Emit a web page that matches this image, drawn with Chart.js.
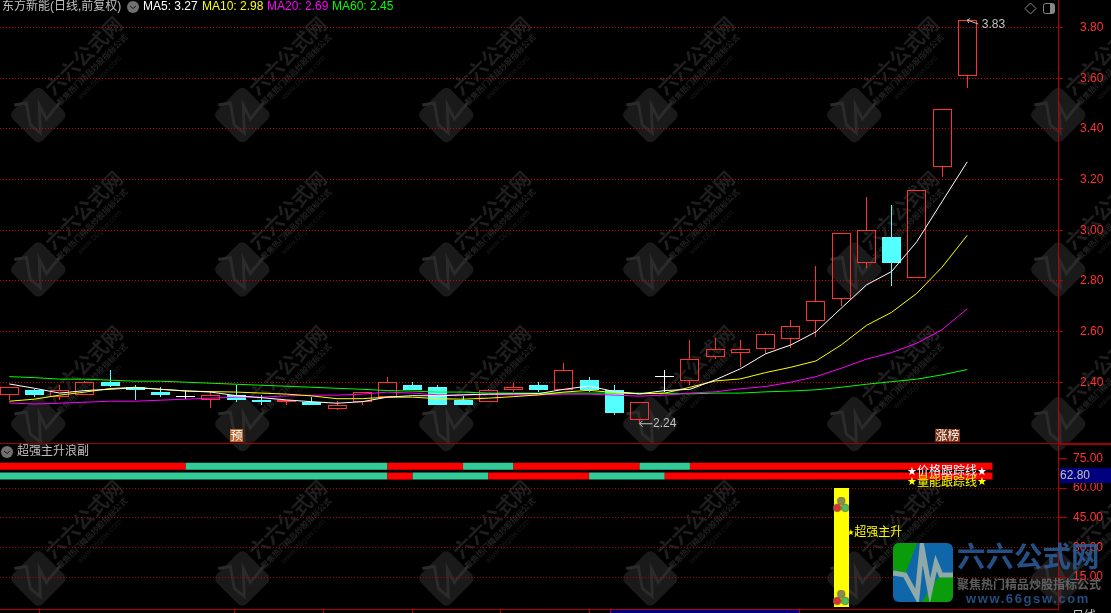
<!DOCTYPE html>
<html>
<head>
<meta charset="utf-8">
<title>东方新能</title>
<script src="https://cdn.jsdelivr.net/npm/chart.js@4"></script>
<style>
    html, body { margin: 0; padding: 0; background: #000; overflow: hidden; }
    canvas { display: block; }
</style>
</head>
<body>
<canvas id="klineChart" width="1111" height="613"></canvas>
<script>
// Daily candles, oldest first
const opens  = [2.35,2.37,2.34,2.35,2.40,2.38,2.36,2.34,2.33,2.35,2.33,2.32,2.32,2.295,2.32,2.34,2.39,2.38,2.33,2.32,2.37,2.39,2.37,2.41,2.37,2.25,2.42,2.405,2.50,2.515,2.53,2.57,2.64,2.73,2.87,2.975,2.81,3.25,3.61];
const closes = [2.38,2.35,2.37,2.40,2.385,2.37,2.35,2.34,2.35,2.33,2.32,2.33,2.31,2.31,2.36,2.40,2.37,2.31,2.31,2.37,2.38,2.37,2.45,2.37,2.28,2.32,2.42,2.49,2.53,2.53,2.59,2.62,2.72,2.99,3.00,2.87,3.16,3.48,3.83];
const highs  = [2.38,2.375,2.39,2.405,2.45,2.39,2.38,2.365,2.36,2.39,2.35,2.33,2.34,2.325,2.36,2.42,2.40,2.39,2.345,2.375,2.395,2.40,2.475,2.42,2.39,2.32,2.45,2.565,2.575,2.565,2.60,2.645,2.86,2.99,3.13,3.10,3.16,3.48,3.83];
const lows   = [2.33,2.34,2.33,2.35,2.38,2.33,2.34,2.335,2.30,2.32,2.31,2.31,2.31,2.29,2.31,2.34,2.37,2.31,2.31,2.32,2.36,2.36,2.37,2.36,2.27,2.24,2.36,2.39,2.49,2.46,2.51,2.535,2.58,2.70,2.85,2.78,2.81,3.21,3.56];

const ma5  = [2.393,2.376,2.357,2.367,2.372,2.378,2.372,2.366,2.361,2.347,2.339,2.330,2.323,2.317,2.323,2.341,2.347,2.346,2.350,2.353,2.354,2.355,2.372,2.385,2.363,2.354,2.367,2.372,2.409,2.453,2.512,2.547,2.599,2.692,2.784,2.837,2.955,3.113,3.27];
const ma10 = [2.325,2.333,2.349,2.361,2.375,2.380,2.372,2.365,2.363,2.361,2.357,2.353,2.346,2.335,2.335,2.341,2.341,2.335,2.333,2.337,2.343,2.350,2.361,2.368,2.359,2.354,2.357,2.380,2.405,2.413,2.438,2.459,2.484,2.547,2.624,2.676,2.751,2.854,2.98];
const ma20 = [2.318,2.314,2.317,2.321,2.325,2.325,2.329,2.333,2.337,2.341,2.341,2.346,2.349,2.349,2.353,2.361,2.357,2.350,2.350,2.351,2.350,2.350,2.353,2.353,2.349,2.345,2.349,2.357,2.362,2.374,2.383,2.400,2.422,2.455,2.491,2.517,2.554,2.607,2.69];
const ma60 = [2.422,2.418,2.412,2.412,2.408,2.404,2.404,2.400,2.396,2.392,2.388,2.384,2.380,2.376,2.372,2.367,2.365,2.361,2.361,2.357,2.357,2.357,2.357,2.357,2.357,2.357,2.355,2.354,2.357,2.357,2.362,2.365,2.370,2.380,2.392,2.402,2.412,2.429,2.45];

// Tracking strips: one flag per candle gap, 1 = red, 0 = green
const priceTrack  = [1,1,1,1,1,1,1,1,0,0,0,0,0,0,0,0,1,1,1,0,0,1,1,1,1,1,0,0,1,1,1,1,1,1,1,1,1,1,1,1];
const volumeTrack = [0,0,0,0,0,0,0,0,0,0,0,0,0,0,0,0,1,0,0,0,1,1,1,1,0,0,0,1,1,1,1,1,1,1,1,1,1,1,1,1];

const priceTicks = [2.4,2.5,2.6,2.7,2.8,2.9,3.0,3.1,3.2,3.3,3.4,3.5,3.6,3.7,3.8];
const subTicks   = [15,30,45,60,75];
const dateTicks  = [1.18,8.95,12.45,16,19.5,23];

const legendLabels = ['MA5: 3.27','MA10: 2.98','MA20: 2.69','MA60: 2.45'];
const surgeIndex = 33;
const surgeTop = 60;
const iconLevels = [51.5, 4.5];

const RED = '#ff3232', CYAN = '#54ffff', AXIS = '#b80000', TEXT = '#c0c0c0';
const CJK = '"Liberation Sans", "Noto Sans CJK SC", sans-serif';

const candleIdx = opens.map((_, i) => i);
const candleColor = i => closes[i] > opens[i] ? RED : closes[i] < opens[i] ? CYAN : '#ffffff';
const candleFill = i => closes[i] > opens[i] ? 'rgba(0,0,0,0)' : candleColor(i);

function barSet(data, thickness, extra) {
    return Object.assign({
        type: 'bar', data: data, yAxisID: 'y', grouped: false, barThickness: thickness,
        borderSkipped: false, inflateAmount: 0, borderWidth: 0
    }, extra);
}

function maSet(values, color) {
    return {
        type: 'line', data: candleIdx.map(i => ({ x: i, y: values[i] })), yAxisID: 'y',
        borderColor: color, borderWidth: 1, pointRadius: 0, tension: 0
    };
}

function trackSet(flags, level) {
    return {
        type: 'line', data: flags.concat(0).map((_, k) => ({ x: k - 1, y: level })), yAxisID: 'ySub',
        borderWidth: 7, borderCapStyle: 'butt', pointRadius: 0, borderColor: '#ff0000',
        segment: { borderColor: ctx => flags[ctx.p0DataIndex] ? '#ff0000' : '#33cc99' }
    };
}

// Axes keep their exact box, no extra room for half labels
function fixAxis(scale, size) {
    if (scale.isHorizontal()) scale.height = size; else scale.width = size;
    scale.paddingTop = scale.paddingBottom = scale.paddingLeft = scale.paddingRight = 0;
}

// Small sprite used by the surge column, three balls
function buildSurgeIcon() {
    const icon = document.createElement('canvas');
    icon.width = 16; icon.height = 16;
    const c = icon.getContext('2d');
    [[8, 4, '#8a8a50'], [4, 11, '#e03030'], [12, 11, '#50c050']].forEach(b => {
        c.beginPath(); c.arc(b[0], b[1], 3.8, 0, Math.PI * 2);
        c.fillStyle = b[2]; c.fill();
        c.strokeStyle = '#606060'; c.lineWidth = 0.7; c.stroke();
    });
    return icon;
}

function label(ctx, text, x, y, color, font, align) {
    ctx.font = font || ('12px ' + CJK);
    ctx.fillStyle = color;
    ctx.textAlign = align || 'left';
    ctx.textBaseline = 'middle';
    ctx.fillText(text, x, y);
}

function drawWatermark(ctx, cx, cy) {
    ctx.save();
    ctx.translate(cx, cy);
    ctx.save();
    ctx.rotate(Math.PI / 4);
    ctx.beginPath(); ctx.roundRect(-21, -21, 42, 42, 6);
    ctx.fillStyle = '#1a1a1a'; ctx.fill();
    ctx.restore();
    ctx.beginPath();
    [[-24,-10],[-12,-12],[-8,10],[2,18],[1,-10],[8,4],[22,-13]].forEach((p, i) => i ? ctx.lineTo(p[0], p[1]) : ctx.moveTo(p[0], p[1]));
    ctx.strokeStyle = '#2b2b2b'; ctx.lineWidth = 3; ctx.stroke();
    ctx.rotate(-Math.PI / 4);
    label(ctx, '六六公式网', 24, -10, '#1f1f1f', 'bold 20px "Noto Sans CJK SC"');
    label(ctx, '聚焦热门精品炒股指标公式', 22, 6, '#222222', 'bold 8px "Noto Sans CJK SC"');
    label(ctx, 'www.66gsw.com', 40, 17, '#1a1a1a', '8px "Liberation Sans"');
    ctx.restore();
}

function drawTag(ctx, text, left, width, color) {
    ctx.fillStyle = color;
    ctx.fillRect(left, 429, width, 13);
    label(ctx, text, left + width / 2, 435.5, '#ffffff', '12px "Noto Sans CJK SC"', 'center');
}

function drawFoldIcon(ctx, cx, cy) {
    ctx.beginPath(); ctx.arc(cx, cy, 6, 0, Math.PI * 2);
    ctx.fillStyle = '#707070'; ctx.fill();
    ctx.beginPath(); ctx.moveTo(cx - 3, cy - 1); ctx.lineTo(cx, cy + 1.5); ctx.lineTo(cx + 3, cy - 1);
    ctx.strokeStyle = '#1a1a1a'; ctx.lineWidth = 1; ctx.stroke();
}

function drawLogo(ctx) {
    ctx.save();
    ctx.beginPath(); ctx.roundRect(893, 543, 60, 59, 6); ctx.clip();
    ctx.fillStyle = '#0f66a8'; ctx.fillRect(893, 543, 60, 59);
    ctx.fillStyle = '#0b9c0b';
    ctx.beginPath(); ctx.moveTo(893,543); ctx.lineTo(917,543); ctx.lineTo(905,575); ctx.lineTo(893,573); ctx.fill();
    ctx.beginPath(); ctx.moveTo(922,602); ctx.lineTo(932,585); ctx.lineTo(941,575); ctx.lineTo(953,575); ctx.lineTo(953,602); ctx.fill();
    ctx.beginPath();
    [[893,573],[905,575],[917,597],[922,547],[930,591],[936,563],[941,575],[953,575]].forEach((p, i) => i ? ctx.lineTo(p[0], p[1]) : ctx.moveTo(p[0], p[1]));
    ctx.strokeStyle = '#8fa8a8'; ctx.lineWidth = 5; ctx.stroke();
    ctx.restore();

    ctx.save();
    ctx.globalAlpha = 0.85;
    label(ctx, '六六公式网', 957, 556, '#2b5e9c', 'bold 28.5px "Noto Sans CJK SC"');
    label(ctx, '聚焦热门精品炒股指标公式', 957, 584, '#707070', 'bold 12px "Noto Sans CJK SC"');
    ctx.letterSpacing = '1.6px';
    label(ctx, 'www.66gsw.com', 966, 599, '#2a5a96', 'bold 13px "Liberation Sans"');
    ctx.letterSpacing = '0px';
    ctx.restore();
}

const terminalPlugin = {
    id: 'terminal',
    beforeDraw(chart) {
        const ctx = chart.ctx;
        ctx.fillStyle = '#000';
        ctx.fillRect(0, 0, chart.width, chart.height);
        [115, 269.5, 424, 578.5].forEach(cy => {
            for (let k = 0; k < 6; k++) drawWatermark(ctx, 38.3 + 204 * k, cy);
        });
    },
    // Candles stay crisp when the bars land on whole pixels
    beforeDatasetsDraw(chart) {
        chart.getSortedVisibleDatasetMetas().forEach(meta => {
            if (meta.type !== 'bar') return;
            meta.data.forEach(bar => {
                bar.x = Math.floor(bar.x) + 0.5;
                bar.y = Math.round(bar.y);
                bar.base = Math.round(bar.base);
            });
        });
    },
    afterDraw(chart) {
        const ctx = chart.ctx;
        const { x, y, ySub } = chart.scales;

        // Panel separator
        ctx.fillStyle = '#a00000';
        ctx.fillRect(0, Math.round(y.bottom), chart.width, 1);
        ctx.fillRect(1058, Math.round(y.bottom) + 1, chart.width - 1058, 1);

        // Header
        label(ctx, '东方新能(日线,前复权)', 2, 7, TEXT);
        drawFoldIcon(ctx, 133, 7);
        const legendColors = ['#ffffff', '#ffff00', '#ff00ff', '#00ff00'];
        [143, 202, 267, 332].forEach((left, i) => label(ctx, legendLabels[i], left, 7, legendColors[i]));

        // Window buttons
        ctx.strokeStyle = '#888888'; ctx.lineWidth = 1;
        ctx.beginPath(); ctx.moveTo(1030.5, 3); ctx.lineTo(1036, 8.5); ctx.lineTo(1030.5, 14); ctx.lineTo(1025, 8.5); ctx.closePath(); ctx.stroke();
        ctx.beginPath(); ctx.roundRect(1043.5, 3.5, 11, 10, 2); ctx.stroke();
        ctx.fillStyle = '#888888'; ctx.fillRect(1050, 4, 4, 9);

        // High and low arrows
        const hiIdx = highs.indexOf(Math.max(...highs));
        const loIdx = lows.indexOf(Math.min(...lows));
        const hx = x.getPixelForValue(hiIdx), hy = y.getPixelForValue(highs[hiIdx]);
        const lx = x.getPixelForValue(loIdx), ly = y.getPixelForValue(lows[loIdx]);
        ctx.strokeStyle = TEXT;
        ctx.beginPath();
        ctx.moveTo(hx + 11, hy + 4); ctx.lineTo(hx, hy);
        ctx.moveTo(hx + 3, hy - 1.5); ctx.lineTo(hx, hy); ctx.lineTo(hx + 1.5, hy + 3);
        ctx.moveTo(lx + 13, ly + 1); ctx.lineTo(lx, ly + 1);
        ctx.moveTo(lx + 3, ly - 2); ctx.lineTo(lx, ly + 1); ctx.lineTo(lx + 3, ly + 4);
        ctx.stroke();
        label(ctx, highs[hiIdx].toFixed(2), hx + 14.5, hy + 5, TEXT);
        label(ctx, lows[loIdx].toFixed(2), lx + 13.5, ly + 1, TEXT);

        drawTag(ctx, '预', 230, 13, '#b5692d');
        drawTag(ctx, '涨榜', 935, 25, '#7a3010');

        // Sub panel captions
        drawFoldIcon(ctx, 7, 452);
        label(ctx, '超强主升浪副', 17, 452, TEXT);
        label(ctx, '★', 907, 472, '#ffffff', '11px "DejaVu Sans"');
        label(ctx, '价格跟踪线', 917, 472, '#ffffff');
        label(ctx, '★', 977, 472, '#ffffff', '11px "DejaVu Sans"');
        label(ctx, '★', 907, 482.5, '#ffff00', '11px "DejaVu Sans"');
        label(ctx, '量能跟踪线', 917, 482.5, '#ffff00');
        label(ctx, '★', 977, 482.5, '#ffff00', '11px "DejaVu Sans"');
        const sx = x.getPixelForValue(surgeIndex);
        label(ctx, '★', sx + 6, 533, '#ffff00', '8px "DejaVu Sans"');
        label(ctx, '超强主升', sx + 13, 532.5, '#ffff00');

        // Current indicator value
        ctx.fillStyle = '#00007f';
        ctx.fillRect(1060, 468, 51, 15);
        label(ctx, '62.80', 1060, 475.5, TEXT);

        // Date box and cycle name at the clipped bottom edge
        ctx.fillStyle = '#00007f';
        ctx.fillRect(611, 610, 188, 3);
        ctx.strokeStyle = '#c00000';
        ctx.strokeRect(610.5, 609.5, 189, 5);
        label(ctx, '日线', 1072, 617, '#c0c0c0');

        drawLogo(ctx);
    }
};

const InsightsKline = new Chart(document.getElementById('klineChart'), {
    data: {
        datasets: [
            maSet(ma5, '#ffffff'),
            maSet(ma10, '#ffff00'),
            maSet(ma20, '#ff00ff'),
            maSet(ma60, '#00ff00'),
            barSet(candleIdx.map(i => ({ x: i, y: [opens[i], closes[i]] })), 19, {
                backgroundColor: candleIdx.map(candleFill),
                borderColor: candleIdx.map(candleColor),
                borderWidth: 1,
                minBarLength: 1
            }),
            barSet(candleIdx.map(i => ({ x: i, y: [Math.max(opens[i], closes[i]), highs[i]] })), 1, {
                backgroundColor: candleIdx.map(candleColor)
            }),
            barSet(candleIdx.map(i => ({ x: i, y: [lows[i], Math.min(opens[i], closes[i])] })), 1, {
                backgroundColor: candleIdx.map(candleColor)
            }),
            {
                type: 'line', yAxisID: 'ySub', showLine: false,
                data: iconLevels.map(v => ({ x: surgeIndex, y: v })),
                pointStyle: buildSurgeIcon(), pointRadius: 8
            },
            trackSet(priceTrack, 71),
            trackSet(volumeTrack, 66),
            barSet([{ x: surgeIndex, y: [0, surgeTop] }], 15, { yAxisID: 'ySub', backgroundColor: '#ffff00' })
        ]
    },
    options: {
        responsive: false,
        animation: false,
        events: [],
        // The icon points would otherwise pad the chart area
        layout: { padding: 0, autoPadding: false },
        plugins: { legend: { display: false }, tooltip: { enabled: false } },
        scales: {
            x: {
                type: 'linear',
                offset: false,
                min: -0.369,
                max: 41.6,
                afterBuildTicks: scale => { scale.ticks = dateTicks.map(v => ({ value: v })); },
                afterFit: scale => fixAxis(scale, 4),
                border: { color: AXIS },
                grid: { drawOnChartArea: false, offset: false, tickLength: 4, tickColor: AXIS },
                ticks: { autoSkip: false, padding: 0, maxRotation: 0, callback: () => '' }
            },
            y: {
                position: 'right',
                stack: 'panels',
                stackWeight: 443,
                min: 2.160,
                max: 3.909,
                afterBuildTicks: scale => { scale.ticks = priceTicks.map(v => ({ value: v })); },
                afterFit: scale => fixAxis(scale, 53),
                border: { color: AXIS, dash: [1, 2] },
                grid: {
                    color: ctx => Math.round(ctx.tick.value * 10) % 2 === 0 ? '#c80000' : 'rgba(0,0,0,0)',
                    tickColor: AXIS,
                    tickLength: 5
                },
                ticks: {
                    color: RED,
                    padding: 17,
                    font: { family: 'Liberation Sans', size: 12 },
                    callback: v => v.toFixed(2)
                }
            },
            ySub: {
                position: 'right',
                stack: 'panels',
                stackWeight: 166,
                min: -1.11,
                max: 82.73,
                afterBuildTicks: scale => { scale.ticks = subTicks.map(v => ({ value: v })); },
                afterFit: scale => fixAxis(scale, 53),
                border: { color: AXIS, dash: [1, 2] },
                grid: {
                    color: ctx => ctx.tick.value < 75 ? '#b00000' : 'rgba(0,0,0,0)',
                    tickColor: AXIS,
                    tickLength: 9
                },
                ticks: {
                    color: RED,
                    padding: 6,
                    font: { family: 'Liberation Sans', size: 12 },
                    callback: v => v.toFixed(2)
                }
            }
        }
    },
    plugins: [terminalPlugin]
});
</script>
</body>
</html>
